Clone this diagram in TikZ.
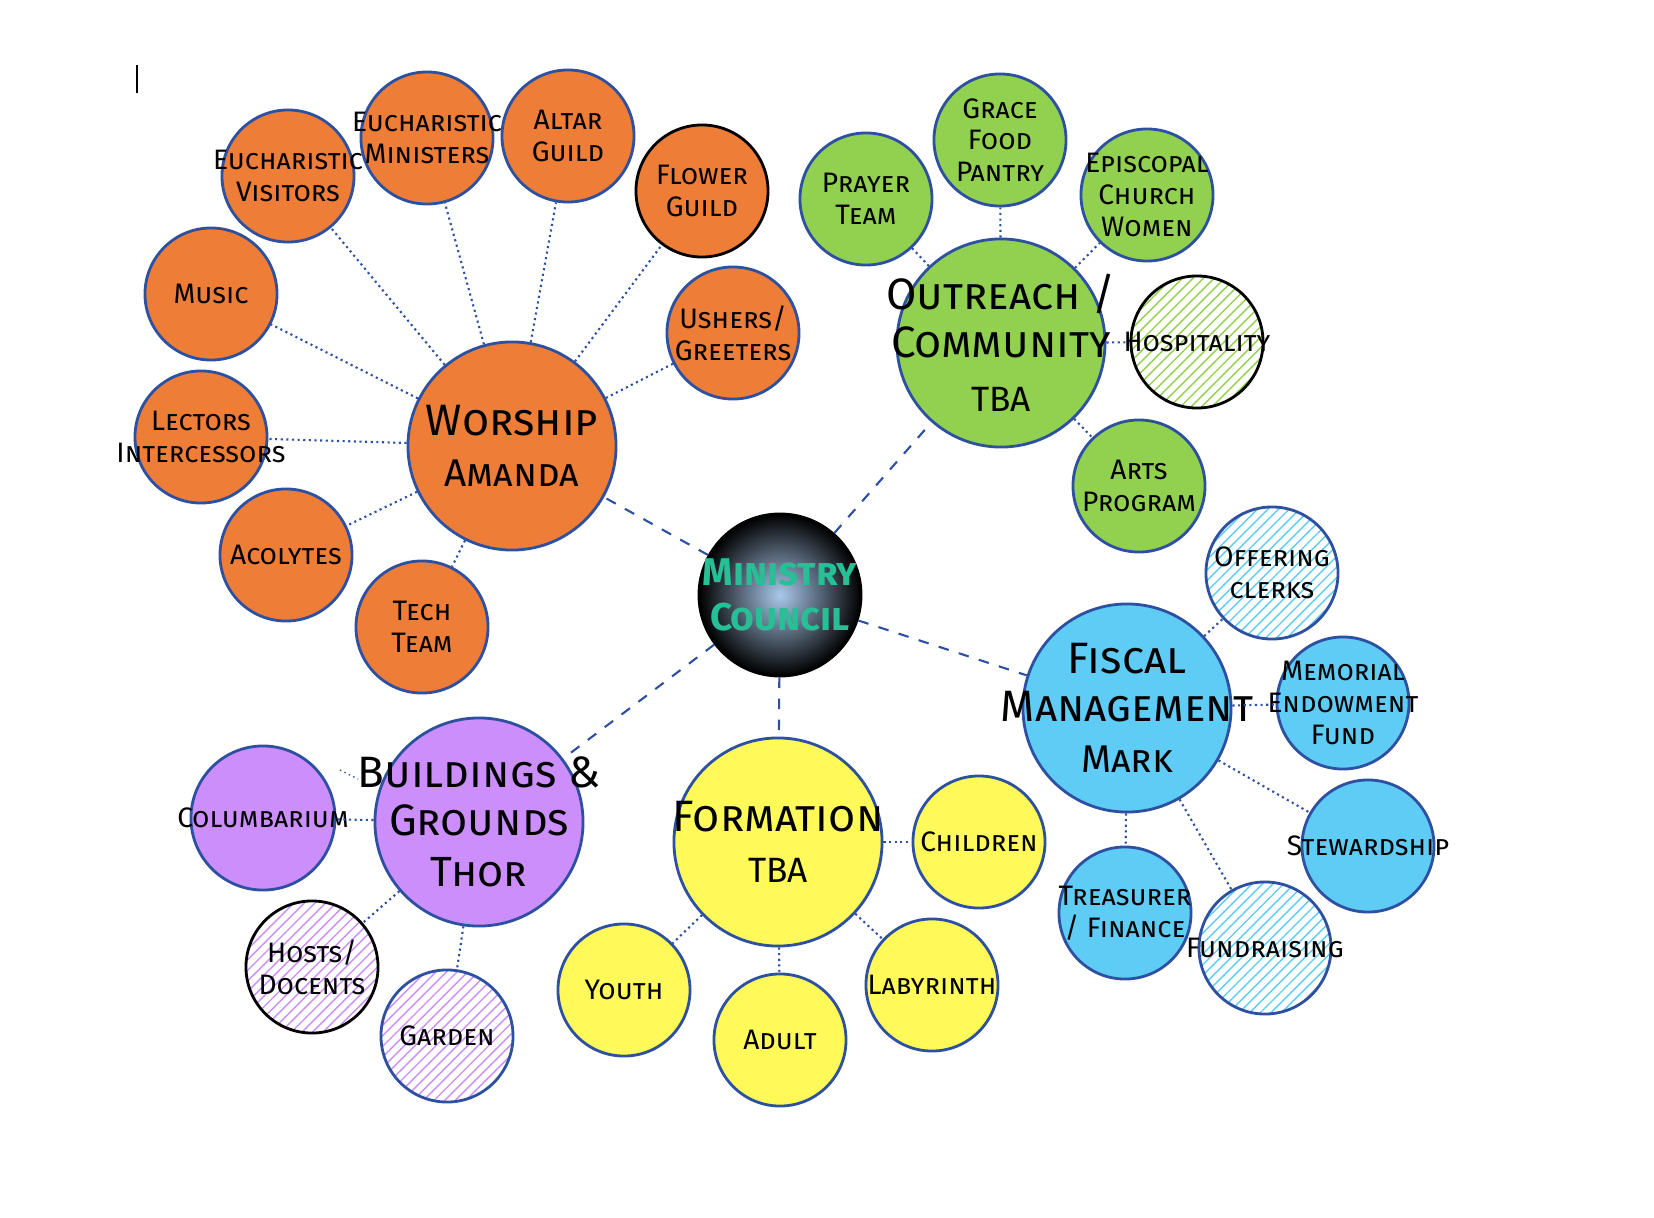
\documentclass[tikz,border=0pt]{standalone}
\usepackage{fontspec}
\setmainfont{Fira Sans}
\usetikzlibrary{patterns}
\definecolor{worshipC}{RGB}{237,125,55}
\definecolor{outreachC}{RGB}{146,208,80}
\definecolor{fiscalC}{RGB}{94,204,244}
\definecolor{buildC}{RGB}{204,142,250}
\definecolor{formC}{RGB}{255,250,90}
\definecolor{edgeC}{RGB}{45,80,160}
\definecolor{councilC}{RGB}{40,190,150}
\tikzset{
  bub/.style={circle, draw=edgeC, thick, minimum size=1.32cm, inner sep=0pt},
  big/.style={bub, minimum size=2.08cm},
  hatch/.style={bub, fill=white, pattern=north east lines, pattern color=#1},
  sm/.style={align=center, inner sep=0pt, font=\scshape\fontsize{8}{9}\selectfont},
  lg/.style={align=center, inner sep=0pt, font=\scshape\fontsize{12.5}{13.5}\selectfont},
  link/.style={densely dotted, edgeC, semithick}
}
\begin{document}
\begin{tikzpicture}[x=0.01cm,y=-0.01cm]
\useasboundingbox (0,0) rectangle (1654,1218);

%%% centre
\node[circle, draw=black, thick, minimum size=1.62cm, inner sep=0pt, inner color={rgb,255:red,170;green,200;blue,235}, outer color=black,
  label={[align=center, font=\bfseries\scshape\fontsize{11}{13}\selectfont, text=councilC]center:Ministry\\Council}] (council) at (780,595) {};

%%% worship
\node[big, fill=worshipC, label={[lg]center:Worship\\[1pt]{\fontsize{11}{11}\selectfont Amanda}}] (worship) at (512,446) {};
\foreach \n/\x/\y/\t in {evis/288/176/{Eucharistic\\Visitors}, emin/427/138/{Eucharistic\\Ministers},
  altar/568/136/{Altar\\Guild}, music/211/294/{Music}, lect/201/437/{Lectors\\Intercessors},
  acol/286/555/{Acolytes}, tech/422/627/{Tech\\Team}, ushers/733/333/{Ushers/\\Greeters}}
{
  \node[bub, fill=worshipC, label={[sm]center:\t}] (\n) at (\x,\y) {};
  \draw[link] (worship) -- (\n);
}
\node[bub, fill=worshipC, draw=black, label={[sm]center:Flower\\Guild}] (flower) at (702,191) {};
\draw[link] (worship) -- (flower);

%%% outreach
\node[big, fill=outreachC, label={[lg]center:Outreach /\\Community\\[2pt]{\fontsize{10}{10}\selectfont TBA}}] (outreach) at (1001,343) {};
\foreach \n/\x/\y/\t in {prayer/866/199/{Prayer\\Team}, food/1000/140/{Grace\\Food\\Pantry},
  ecw/1147/195/{Episcopal\\Church\\Women}, arts/1139/486/{Arts\\Program}}
{
  \node[bub, fill=outreachC, label={[sm]center:\t}] (\n) at (\x,\y) {};
  \draw[link] (outreach) -- (\n);
}
\node[hatch=outreachC, draw=black, label={[sm]center:Hospitality}] (hosp) at (1197,342) {};
\draw[link] (outreach) -- (hosp);

%%% fiscal
\node[big, fill=fiscalC, label={[lg]center:Fiscal\\Management\\[1pt]{\fontsize{11}{11}\selectfont Mark}}] (fiscal) at (1127,708) {};
\foreach \n/\x/\y/\t in {memorial/1343/703/{Memorial\\Endowment\\Fund}, steward/1368/846/{Stewardship},
  treas/1125/913/{Treasurer\\/ Finance}}
{
  \node[bub, fill=fiscalC, label={[sm]center:\t}] (\n) at (\x,\y) {};
  \draw[link] (fiscal) -- (\n);
}
\node[hatch=fiscalC, label={[sm]center:Offering\\clerks}] (offer) at (1272,573) {};
\node[hatch=fiscalC, label={[sm]center:Fundraising}] (fund) at (1265,948) {};
\draw[link] (fiscal) -- (offer);
\draw[link] (fiscal) -- (fund);

%%% buildings
\node[big, fill=buildC, label={[lg]center:Buildings \&\\Grounds\\[1pt]{\fontsize{12}{12}\selectfont Thor}}] (build) at (479,822) {};
\node[bub, fill=buildC, minimum size=1.44cm, label={[sm]center:Columbarium}] (colum) at (263,818) {};
\node[hatch=buildC, draw=black, label={[sm]center:Hosts/\\Docents}] (hosts) at (312,967) {};
\node[hatch=buildC, label={[sm]center:Garden}] (garden) at (447,1036) {};
\foreach \n in {colum, hosts, garden}
  \draw[link] (build) -- (\n);

%%% formation
\node[big, fill=formC, label={[lg]center:Formation\\[1pt]{\fontsize{10}{10}\selectfont TBA}}] (form) at (778,842) {};
\foreach \n/\x/\y/\t in {child/979/842/{Children}, laby/932/985/{Labyrinth},
  adult/780/1040/{Adult}, youth/624/990/{Youth}}
{
  \node[bub, fill=formC, label={[sm]center:\t}] (\n) at (\x,\y) {};
  \draw[link] (form) -- (\n);
}

%%% council links
\foreach \n in {worship, outreach, fiscal, build, form}
  \draw[dashed, edgeC, semithick] (council) -- (\n);

% stray marks
\coordinate (barA) at (137,65);
\coordinate (barB) at (137,93);
\draw (barA) -- (barB);
\coordinate (tickA) at (340,770);
\coordinate (tickB) at (358,779);
\draw[densely dotted, edgeC] (tickA) -- (tickB);
\end{tikzpicture}
\end{document}
